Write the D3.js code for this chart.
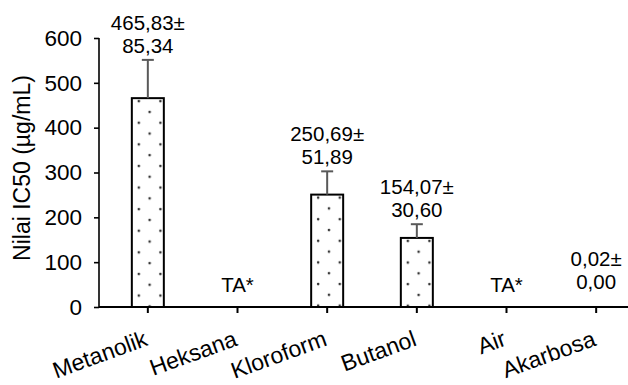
<!DOCTYPE html>
<html>
<head>
<meta charset="utf-8">
<script src="https://cdn.jsdelivr.net/npm/d3@7"></script>
<style>
  html, body { margin: 0; padding: 0; background: #fff; }
  svg { display: block; font-family: "Liberation Sans", Arial, sans-serif; }
</style>
</head>
<body>
<svg id="chart" width="628" height="385"></svg>
<script>
// Extract IC50 values (µg/mL): mean and standard deviation; null = not active
const categories = ["Metanolik", "Heksana", "Kloroform", "Butanol", "Air", "Akarbosa"];
const means = [465.83, null, 250.69, 154.07, null, 0.02];
const sds = [85.34, null, 51.89, 30.60, null, 0.00];
const yTicks = [0, 100, 200, 300, 400, 500, 600];
const inactiveLabel = "TA*";
const yTitle = "Nilai IC50 (µg/mL)";

const svg = d3.select("#chart");
const width = 628, height = 385;
const margin = { left: 99, top: 38, bottom: 78 };

svg.append("rect").attr("width", width).attr("height", height).attr("fill", "#fff");

const x = d3.scaleBand()
  .domain(categories)
  .range([103, 641])
  .paddingInner(0)
  .paddingOuter(0);

const y = d3.scaleLinear()
  .domain([0, 600])
  .range([height - margin.bottom, margin.top]);

const barW = 32;
const fmt = v => d3.format(".2f")(v).replace(".", ",");

const rows = categories.map((c, i) => ({ cat: c, mean: means[i], sd: sds[i], i }));
const active = rows.filter(d => d.mean !== null);

// Dotted fill, one tile origin per bar so the dots start at each bar's top-left
const defs = svg.append("defs");
const tile = 21.6;
active.forEach(d => {
  const p = defs.append("pattern")
    .attr("id", "dots" + d.i)
    .attr("patternUnits", "userSpaceOnUse")
    .attr("x", x(d.cat) + x.bandwidth() / 2 - barW / 2)
    .attr("y", y(d.mean))
    .attr("width", tile)
    .attr("height", tile);
  p.append("rect").attr("width", tile).attr("height", tile).attr("fill", "#fff");
  p.append("circle").attr("cx", 7).attr("cy", 3).attr("r", 1.3).attr("fill", "#333");
  p.append("circle").attr("cx", 7 + tile / 2).attr("cy", 3 + tile / 2).attr("r", 1.3).attr("fill", "#333");
});

// Bars
svg.append("g").selectAll("rect")
  .data(active)
  .join("rect")
  .attr("x", d => x(d.cat) + x.bandwidth() / 2 - barW / 2)
  .attr("y", d => y(d.mean))
  .attr("width", barW)
  .attr("height", d => Math.max(0, y(0) - y(d.mean)))
  .attr("fill", d => `url(#dots${d.i})`)
  .attr("stroke", "#000")
  .attr("stroke-width", 2);

// Error bars (upper half only)
const err = svg.append("g").attr("stroke", "#595959").attr("stroke-width", 2);
active.forEach(d => {
  const cx = x(d.cat) + x.bandwidth() / 2;
  err.append("line")
    .attr("x1", cx).attr("x2", cx)
    .attr("y1", y(d.mean)).attr("y2", y(d.mean + d.sd));
  err.append("line")
    .attr("x1", cx - 6).attr("x2", cx + 6)
    .attr("y1", y(d.mean + d.sd)).attr("y2", y(d.mean + d.sd));
});

// Y axis
const yAxis = svg.append("g")
  .attr("transform", `translate(${margin.left},0)`)
  .call(d3.axisLeft(y).tickValues(yTicks).tickSize(5).tickPadding(12).tickFormat(d3.format("d")));
yAxis.select(".domain").attr("stroke", "#000").attr("stroke-width", 1.6).attr("d", `M0,${y(0)}V${y(600)}`);
yAxis.selectAll(".tick line").attr("stroke", "#000").attr("stroke-width", 1.6);
yAxis.selectAll(".tick text")
  .attr("font-family", "Liberation Sans, Arial, sans-serif")
  .attr("font-size", 22.5).attr("fill", "#000");

// X axis
const xAxis = svg.append("g")
  .attr("transform", `translate(0,${y(0)})`)
  .call(d3.axisBottom(x).tickSize(6).tickFormat(""));
xAxis.select(".domain").attr("stroke", "#000").attr("stroke-width", 2).attr("d", `M${margin.left},0H${width}`);
xAxis.selectAll(".tick line").attr("stroke", "#000").attr("stroke-width", 2);

// Rotated category labels
svg.append("g").selectAll("text")
  .data(categories)
  .join("text")
  .attr("transform", d => `translate(${x(d) + x.bandwidth() / 2 + 1},345) rotate(-20)`)
  .attr("text-anchor", "end")
  .attr("font-size", 23)
  .attr("fill", "#000")
  .text(d => d);

// Y axis title
svg.append("text")
  .attr("transform", "translate(30,168) rotate(-90)")
  .attr("text-anchor", "middle")
  .attr("font-size", 23)
  .attr("fill", "#000")
  .text(yTitle);

// Value labels: "mean±" over "sd", or TA* for inactive extracts
const labels = svg.append("g").attr("text-anchor", "middle").attr("font-size", 20.5).attr("fill", "#000");
rows.forEach(d => {
  const cx = x(d.cat) + x.bandwidth() / 2;
  if (d.mean === null) {
    labels.append("text").attr("x", cx).attr("y", y(0) - 15).text(inactiveLabel);
  } else {
    const base = Math.min(y(d.mean + d.sd) - 7, y(0) - 18);
    labels.append("text").attr("x", cx).attr("y", base - 23).text(fmt(d.mean) + "±");
    labels.append("text").attr("x", cx).attr("y", base).text(fmt(d.sd));
  }
});
</script>
</body>
</html>
